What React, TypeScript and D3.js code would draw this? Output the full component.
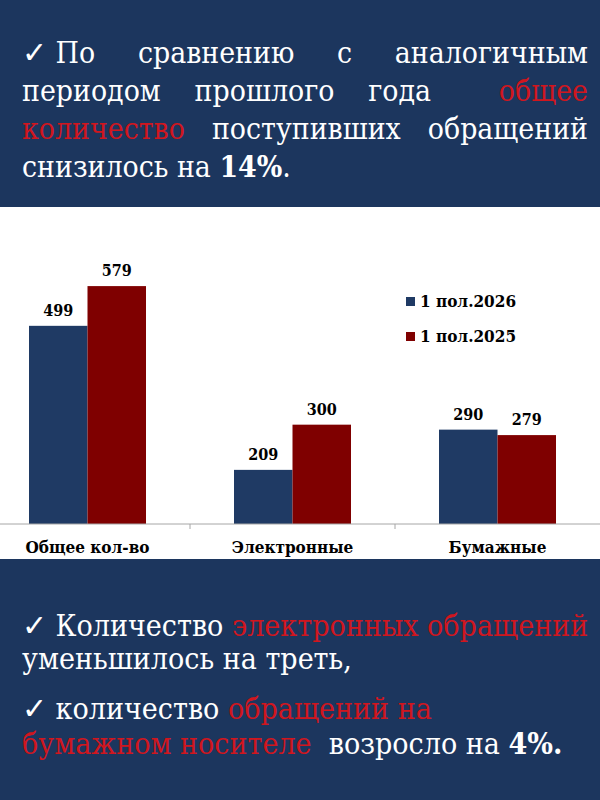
import * as d3 from "d3";

const categories = ["Общее кол-во", "Электронные", "Бумажные"];
const seriesNames = ["1 пол.2026", "1 пол.2025"];
const values2026 = [499, 209, 290];
const values2025 = [579, 300, 279];

// текстовые блоки: сегменты [текст, цвет, жирный]
type Seg = [string, string, boolean];
const topLines: Seg[][] = [
  [["✓ По", "w", false], ["сравнению", "w", false], ["с", "w", false], ["аналогичным", "w", false]],
  [["периодом", "w", false], ["прошлого", "w", false], ["года", "w", false], ["общее", "r", false]],
  [["количество", "r", false], ["поступивших", "w", false], ["обращений", "w", false]],
];
// веса промежутков между словами (двойной пробел перед «общее»)
const topGaps = [[1, 1, 1], [1, 1, 2], [1, 1]];
const topLast: Seg[] = [["снизилось на ", "w", false], ["14%", "w", true], [".", "w", false]];
const bottomLines: Seg[][] = [
  [["✓ Количество ", "w", false], ["электронных обращений", "r", false]],
  [["уменьшилось на треть,", "w", false]],
  [["✓ количество ", "w", false], ["обращений на", "r", false]],
  [["бумажном носителе", "r", false], ["  возросло на ", "w", false], ["4%.", "w", true]],
];

const W = 600;
const H = 800;
const NAVY = "#1c365e";
const BLUE = "#1f3a64";
const DARKRED = "#7f0000";
const RED = "#d0161e";
const FONT = '"DejaVu Serif Condensed", "DejaVu Serif", serif';

const ctx = document.createElement("canvas").getContext("2d")!;
const tw = (t: string, size: number, bold: boolean) => {
  ctx.font = `${bold ? "bold " : ""}${size}px ${FONT}`;
  return ctx.measureText(t).width;
};
const col = (c: string) => (c === "r" ? RED : "#ffffff");
const lineW = (segs: Seg[], size: number) => d3.sum(segs, (g) => tw(g[0], size, g[2]));

const App = () => {
  // размер шрифта подбираем по ширине строк
  const topSize = 24 * (269 / lineW(topLast, 24));
  const botSize = 28 * (566 / lineW(bottomLines[0], 28));

  const left = 22, right = 588;
  const topBase = [63, 101, 139, 177];
  const botBase = [636, 669, 719, 754];

  const topEls: any[] = [];
  topLines.forEach((line, i) => {
    const ws = line.map((g) => tw(g[0], topSize, g[2]));
    const gw = topGaps[i];
    const unit = (right - left - d3.sum(ws)) / d3.sum(gw);
    let x = left;
    line.forEach((g, j) => {
      topEls.push(
        <text key={`t${i}-${j}`} x={x} y={topBase[i]} fill={col(g[1])} fontWeight={g[2] ? "bold" : "normal"} fontSize={topSize}>{g[0]}</text>
      );
      x += ws[j] + (j < gw.length ? gw[j] * unit : 0);
    });
  });

  // график
  const margin = { top: 226, bottom: 276, left: -15, right: 0 };
  const x0 = d3.scaleBand().domain(categories).range([margin.left, W - margin.right]).padding(0);
  const groupW = 117;
  const x1 = d3.scaleBand().domain(seriesNames).range([0, groupW]).padding(0);
  const baseY = H - margin.bottom;
  const y = d3.scaleLinear().domain([100, 700]).range([baseY, margin.top]);
  const series = [values2026, values2025];
  const colors = [BLUE, DARKRED];

  return (
    <svg width={W} height={H} style={{ display: "block", position: "absolute", left: 0, top: 0, fontFamily: FONT }}>
      <rect x={0} y={0} width={W} height={H} fill="#ffffff" />
      <rect x={0} y={0} width={W} height={207} fill={NAVY} />
      <rect x={0} y={559} width={W} height={H - 559} fill={NAVY} />
      {topEls}
      <text x={left} y={topBase[3]} fontSize={topSize} fill="#ffffff">
        {topLast.map((g, j) => (
          <tspan key={j} fill={col(g[1])} fontWeight={g[2] ? "bold" : "normal"}>{g[0]}</tspan>
        ))}
      </text>
      {bottomLines.map((line, i) => (
        <text key={`b${i}`} x={left} y={botBase[i]} fontSize={botSize} style={{ whiteSpace: "pre", fontFamily: FONT }}>
          {line.map((g, j) => (
            <tspan key={j} fill={col(g[1])} fontWeight={g[2] ? "bold" : "normal"}>{g[0]}</tspan>
          ))}
        </text>
      ))}

      {categories.map((c, ci) => {
        const gx = x0(c)! + (x0.bandwidth() - groupW) / 2;
        return (
          <g key={c} transform={`translate(${gx},0)`}>
            {seriesNames.map((s, si) => {
              const v = series[si][ci];
              const bx = x1(s)!;
              return (
                <g key={s}>
                  <rect x={bx} y={y(v)} width={x1.bandwidth()} height={baseY - y(v)} fill={colors[si]} />
                  <text x={bx + x1.bandwidth() / 2} y={y(v) - 10} textAnchor="middle" fontWeight="bold" fontSize={16} fill="#000">{v}</text>
                </g>
              );
            })}
          </g>
        );
      })}
      <line x1={0} x2={W} y1={baseY} y2={baseY} stroke="#a6a6a6" strokeWidth={1} />
      {x0.domain().slice(1).map((c) => (
        <line key={c} x1={x0(c)!} x2={x0(c)!} y1={baseY} y2={baseY + 5} stroke="#a6a6a6" />
      ))}
      {categories.map((c) => (
        <text key={c} x={x0(c)! + x0.bandwidth() / 2} y={553} textAnchor="middle" fontWeight="bold" fontSize={17} fill="#000">{c}</text>
      ))}

      {seriesNames.map((s, i) => (
        <g key={s} transform={`translate(406,${297 + i * 35})`}>
          <rect x={0} y={0} width={9} height={9} fill={colors[i]} />
          <text x={14} y={10} fontWeight="bold" fontSize={17} fill="#000">{s}</text>
        </g>
      ))}
    </svg>
  );
};

export default App;
